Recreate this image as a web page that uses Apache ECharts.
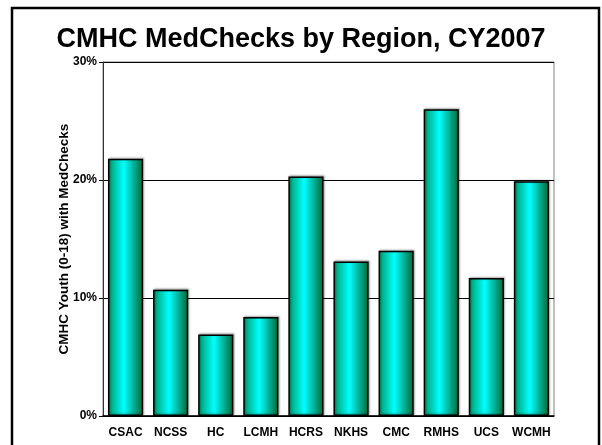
<!DOCTYPE html>
<html>
<head>
<meta charset="utf-8">
<script src="https://cdn.jsdelivr.net/npm/echarts@6/dist/echarts.min.js"></script>
<style>
  html, body { margin: 0; padding: 0; background: #fff; }
  #chart { width: 602px; height: 445px; }
</style>
</head>
<body>
<div id="chart"></div>
<script>
  // regions along the x axis
  var regions = ['CSAC', 'NCSS', 'HC', 'LCMH', 'HCRS', 'NKHS', 'CMC', 'RMHS', 'UCS', 'WCMH'];
  // share of youth with medchecks, in percent
  var medChecks = [21.8, 10.7, 6.9, 8.4, 20.3, 13.1, 14.0, 26.0, 11.7, 19.9];
  var yTicks = [0, 10, 20, 30];

  var font = 'Arial, "Liberation Sans", sans-serif';

  var chart = echarts.init(document.getElementById('chart'));
  chart.setOption({
    animation: false,
    title: {
      text: 'CMHC MedChecks by Region, CY2007',
      left: 'center',
      top: 21,
      textStyle: { fontFamily: font, fontSize: 27, fontWeight: 'bold', color: '#000' }
    },
    graphic: [{
      type: 'rect',
      shape: { x: 12, y: 8, width: 587, height: 460 },
      style: { fill: 'none', stroke: '#000', lineWidth: 2.5 },
      z: 100
    }],
    grid: {
      left: 103, right: 48, top: 62, bottom: 29,
      show: true, borderColor: '#808080', borderWidth: 1
    },
    xAxis: {
      type: 'category',
      data: regions,
      axisLine: { lineStyle: { color: '#000', width: 1.5 } },
      axisTick: { show: false },
      axisLabel: { interval: 0, margin: 11, fontFamily: font, fontSize: 12, fontWeight: 'bold', color: '#000' }
    },
    yAxis: {
      type: 'value',
      min: yTicks[0],
      max: yTicks[yTicks.length - 1],
      interval: 10,
      name: 'CMHC Youth (0-18) with MedChecks',
      nameLocation: 'middle',
      nameGap: 32,
      nameMoveOverlap: false,
      nameTextStyle: { fontFamily: font, fontSize: 13.5, fontWeight: 'bold', color: '#000' },
      axisLine: { show: true, lineStyle: { color: '#333', width: 1 } },
      axisTick: { show: true, length: 4, lineStyle: { color: '#000' } },
      axisLabel: {
        margin: 6,
        fontFamily: font, fontSize: 12, fontWeight: 'bold', color: '#000',
        formatter: '{value}%'
      },
      splitLine: { show: true, lineStyle: { color: '#000', width: 1.2 } }
    },
    series: [{
      type: 'bar',
      data: medChecks,
      barCategoryGap: '22%',
      itemStyle: {
        borderColor: '#000',
        borderWidth: 1.5,
        shadowColor: 'rgba(0,0,0,0.3)',
        shadowBlur: 2,
        shadowOffsetX: 1,
        shadowOffsetY: -1,
        color: new echarts.graphic.LinearGradient(0, 0, 1, 0, [
          { offset: 0, color: '#009966' },
          { offset: 0.45, color: '#00ffff' },
          { offset: 1, color: '#006633' }
        ])
      }
    }]
  });
</script>
</body>
</html>
